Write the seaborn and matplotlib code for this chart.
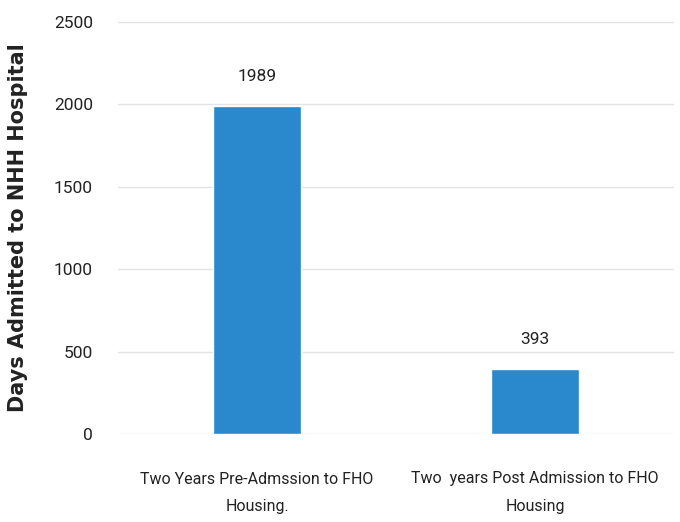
import matplotlib
matplotlib.use("Agg")
import matplotlib.pyplot as plt
import seaborn as sns
import pandas as pd

# Data
categories = ["Two Years Pre-Admssion to FHO\nHousing.",
              "Two  years Post Admission to FHO\nHousing"]
days = [1989, 393]
yticks = [0, 500, 1000, 1500, 2000, 2500]

df = pd.DataFrame({"period": categories, "days": days})

sns.set_style("white")
plt.rcParams["font.family"] = ["Roboto", "DejaVu Sans"]

fig = plt.figure(figsize=(6.8, 5.22), dpi=100)
ax = fig.add_axes([118 / 680, 1 - 434 / 522, 556 / 680, 412 / 522])

sns.barplot(data=df, x="period", y="days", color="#2A88CC", saturation=1,
            width=0.32, ax=ax)

ax.set_ylim(0, 2500)
ax.set_xlim(-0.5, 1.5)
ax.set_yticks(yticks)
ax.yaxis.grid(True, color="#e4e4e4", linewidth=1)
ax.set_axisbelow(True)
for s in ax.spines.values():
    s.set_visible(False)

ax.tick_params(axis="y", labelsize=12.5, colors="#222222", length=0, pad=18)
ax.tick_params(axis="x", labelsize=11.5, colors="#222222", length=0, pad=27)
for lbl in ax.get_xticklabels():
    lbl.set_linespacing(2.0)
ax.set_xlabel("")
ax.set_ylabel("Days Admitted to NHH Hospital", fontsize=15, fontweight="bold",
              family="DejaVu Sans", color="#222222")
ax.yaxis.set_label_coords(-90 / 556, 0.5)

for c in ax.containers:
    ax.bar_label(c, fmt="%d", padding=16, fontsize=12.5, color="#222222")

fig.savefig("out.png", dpi=100)
